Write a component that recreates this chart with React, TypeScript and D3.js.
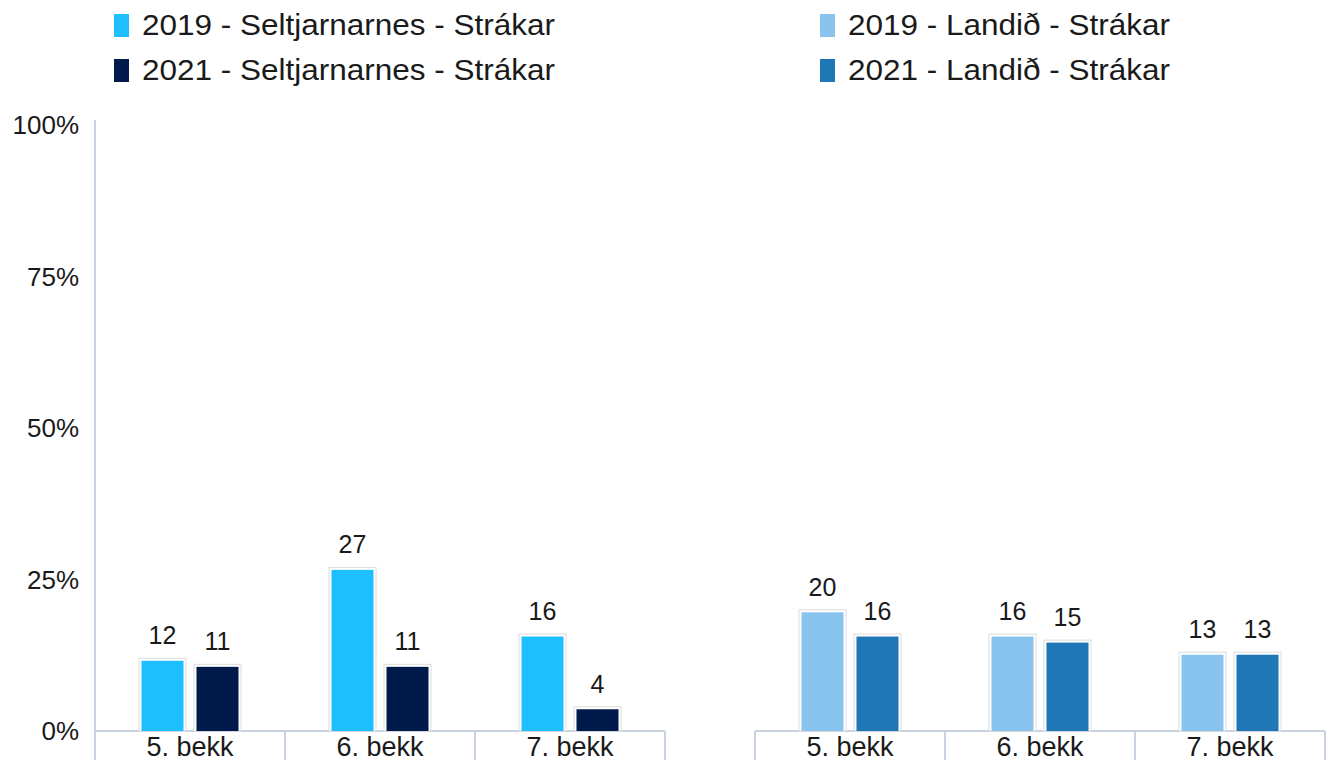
import React from "react";
import * as d3 from "d3";

const categories = ["5. bekk", "6. bekk", "7. bekk"];
const seltjarnarnes2019 = [12, 27, 16];
const seltjarnarnes2021 = [11, 11, 4];
const landid2019 = [20, 16, 13];
const landid2021 = [16, 15, 13];
const yTicks = [0, 25, 50, 75, 100];

const leftSeries = [
  { label: "2019 - Seltjarnarnes - Strákar", color: "#1ebfff", values: seltjarnarnes2019 },
  { label: "2021 - Seltjarnarnes - Strákar", color: "#001a4b", values: seltjarnarnes2021 },
];
const rightSeries = [
  { label: "2019 - Landið - Strákar", color: "#89c4ef", values: landid2019 },
  { label: "2021 - Landið - Strákar", color: "#1f78b5", values: landid2021 },
];

const W = 1337;
const H = 762;
const FONT = "'Liberation Sans', Arial, sans-serif";
const AXIS = "#c9d2e0";
const TEXT = "#1a1a1a";

const y = d3.scaleLinear().domain([0, 100]).range([731, 125]);

function Panel({ x0, x1, series, showY }) {
  const x = d3.scaleBand().domain(categories).range([x0, x1]).paddingInner(0).paddingOuter(0);
  const inner = d3
    .scaleBand()
    .domain(series.map((s, i) => String(i)))
    .range([0, x.bandwidth()])
    .paddingInner(0.145)
    .paddingOuter(0.8);
  const base = y(0);
  return (
    <g>
      {showY && (
        <g>
          <line x1={x0} x2={x0} y1={120} y2={760} stroke={AXIS} strokeWidth={2} />
          {yTicks.map((t) => (
            <text
              key={t}
              x={79}
              y={y(t) + 9}
              textAnchor="end"
              fontSize={26}
              fontFamily={FONT}
              fill={TEXT}
            >
              {t}%
            </text>
          ))}
        </g>
      )}
      <line x1={x0} x2={x1} y1={base} y2={base} stroke={AXIS} strokeWidth={2} />
      {[...categories.map((c) => x(c)), x1].map((t, i) => (
        <line key={i} x1={t} x2={t} y1={base} y2={760} stroke={AXIS} strokeWidth={2} />
      ))}
      {categories.map((c) => (
        <text
          key={c}
          x={x(c) + x.bandwidth() / 2}
          y={756}
          textAnchor="middle"
          fontSize={27}
          fontFamily={FONT}
          fill={TEXT}
        >
          {c}
        </text>
      ))}
      {series.map((s, si) =>
        s.values.map((v, ci) => {
          const bx = x(categories[ci]) + inner(String(si));
          const bw = inner.bandwidth();
          const top = y(v);
          return (
            <g key={`${si}-${ci}`}>
              <rect x={bx} y={top} width={bw} height={base - top} fill="#ffffff" stroke="#dcdcdc" strokeWidth={1} />
              <rect x={bx + 2.5} y={top + 2.5} width={bw - 5} height={base - top - 2.5} fill={s.color} />
              <text
                x={bx + bw / 2}
                y={top - 14}
                textAnchor="middle"
                fontSize={25}
                fontFamily={FONT}
                fill={TEXT}
              >
                {v}
              </text>
            </g>
          );
        })
      )}
    </g>
  );
}

function Legend({ x, series }) {
  return (
    <g>
      {series.map((s, i) => (
        <g key={s.label} transform={`translate(${x},${i * 45})`}>
          <rect x={0} y={14} width={15} height={23} fill={s.color} />
          <text
            transform="translate(28,35) scale(1.05,1)"
            fontSize={30}
            fontFamily={FONT}
            fill={TEXT}
          >
            {s.label}
          </text>
        </g>
      ))}
    </g>
  );
}

export default function App() {
  return (
    <svg
      width={W}
      height={H}
      style={{ position: "absolute", left: 0, top: 0, background: "#fff" }}
    >
      <Legend x={114} series={leftSeries} />
      <Legend x={820} series={rightSeries} />
      <Panel x0={95} x1={665} series={leftSeries} showY={true} />
      <Panel x0={755} x1={1325} series={rightSeries} showY={false} />
    </svg>
  );
}
